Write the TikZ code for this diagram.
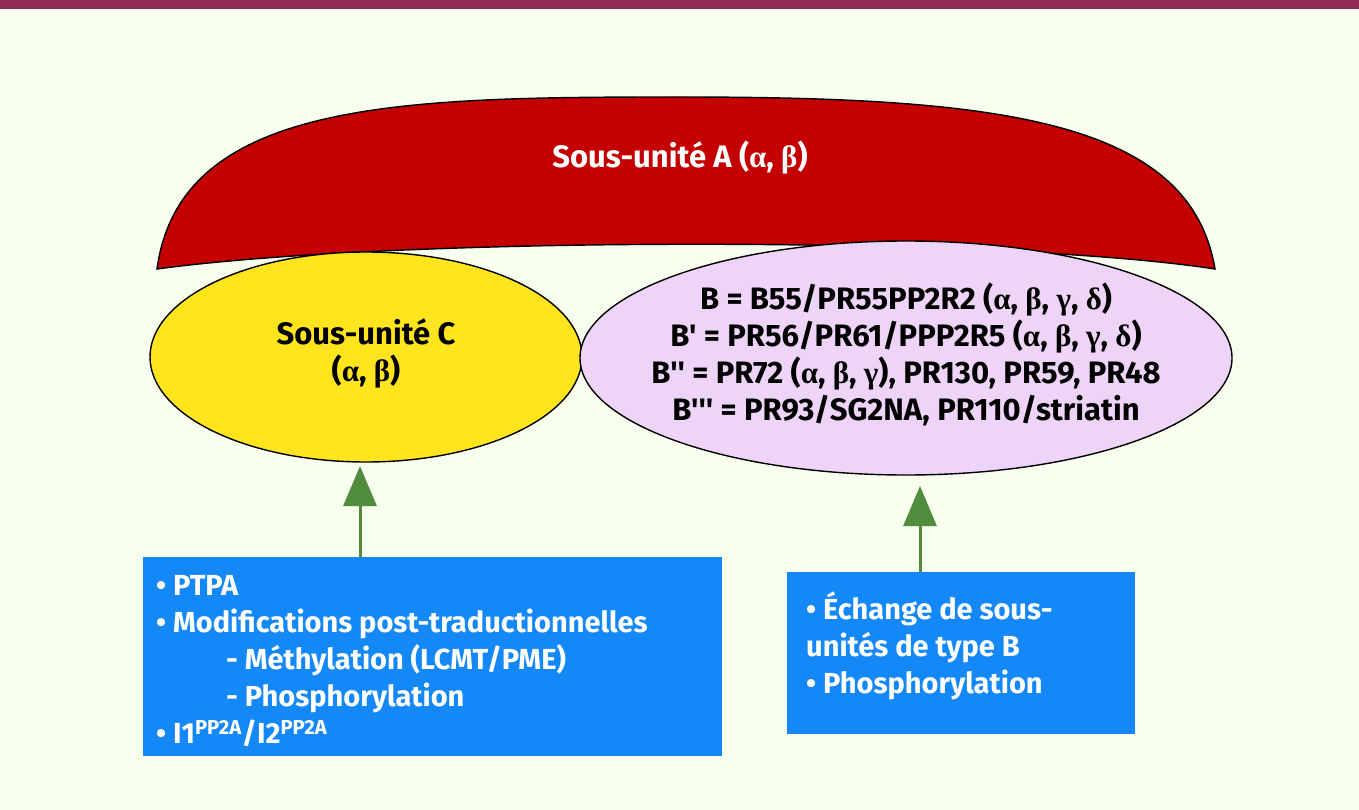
\documentclass[tikz,border=0pt]{standalone}
\usepackage{fontspec}
\setmainfont{Fira Sans}[Ligatures=TeXOff]
\newfontfamily\grk{Liberation Serif}
\usetikzlibrary{arrows.meta,shapes.geometric}
\definecolor{bg}{RGB}{248,255,238}
\definecolor{barc}{RGB}{145,42,88}
\definecolor{redA}{RGB}{196,0,0}
\definecolor{yel}{RGB}{255,228,30}
\definecolor{lil}{RGB}{238,212,248}
\definecolor{boxc}{RGB}{20,136,246}
\definecolor{grn}{RGB}{80,140,60}
\newcommand{\gA}{{\grk\bfseries α}}
\newcommand{\gB}{{\grk\bfseries β}}
\newcommand{\gG}{{\grk\bfseries γ}}
\newcommand{\gD}{{\grk\bfseries δ}}
\tikzset{
  bigfont/.style={font=\fontsize{31}{37}\selectfont\bfseries},
  boxfont/.style={font=\fontsize{29}{37}\selectfont\bfseries},
  oval/.style={ellipse, draw=black, line width=1.4pt, inner sep=0pt},
  infobox/.style={fill=boxc, draw=none, inner sep=0pt},
  boxtext/.style={boxfont, text=white, align=left, anchor=north west, inner sep=0pt},
  uparrow/.style={draw=grn, line width=3pt, -{Triangle[length=40pt,width=33pt]}},
}
\begin{document}
\begin{tikzpicture}[x=1pt,y=-1pt]
\fill[bg] (0,0) rectangle (1359,810);
\useasboundingbox (0,0) rectangle (1359,810);
\fill[barc] (0,0) rectangle (1359,9);
% sous-unite A
\draw[fill=redA, line width=1.4pt] (157,269) .. controls (180,100) and (400,97) .. (680,97)
  .. controls (1000,97) and (1190,120) .. (1215,269)
  .. controls (1000,236) and (400,236) .. (157,269) -- cycle;
\node[bigfont, text=white] (A) at (680,157) {Sous-unité A (\gA, \gB)};
% ellipses
\node[oval, fill=yel, minimum width=432pt, minimum height=210pt] (C) at (366,357) {};
\node[bigfont, align=center] (Ct) at (366,353) {Sous-unité C\\(\gA, \gB)};
\node[oval, fill=lil, minimum width=652pt, minimum height=234pt] (B) at (906,358) {};
\node[bigfont, align=center] (Bt) at (906,354) {B = B55/PR55PP2R2 (\gA, \gB, \gG, \gD)\\
B' = PR56/PR61/PPP2R5 (\gA, \gB, \gG, \gD)\\
B'' = PR72 (\gA, \gB, \gG), PR130, PR59, PR48\\
B''' = PR93/SG2NA, PR110/striatin};
% boxes
\node[infobox, minimum width=579pt, minimum height=199pt] (L) at (432.5,656.5) {};
\node[boxtext] (Lt) at (156,575) {• PTPA\\
• Modifications post-traductionnelles\\
\hspace*{70pt}- Méthylation (LCMT/PME)\\
\hspace*{70pt}- Phosphorylation\\
• I1\textsuperscript{PP2A}/I2\textsuperscript{PP2A}};
\node[infobox, minimum width=348pt, minimum height=162pt] (R) at (961,653) {};
\node[boxtext] (Rt) at (806,592) {• Échange de sous-\\
unités de type B\\
• Phosphorylation};
% arrows
\coordinate (aL) at (360,466);
\coordinate (aR) at (920,486);
\draw[uparrow] (L.north -| aL) -- (aL);
\draw[uparrow] (R.north -| aR) -- (aR);
\end{tikzpicture}
\end{document}
